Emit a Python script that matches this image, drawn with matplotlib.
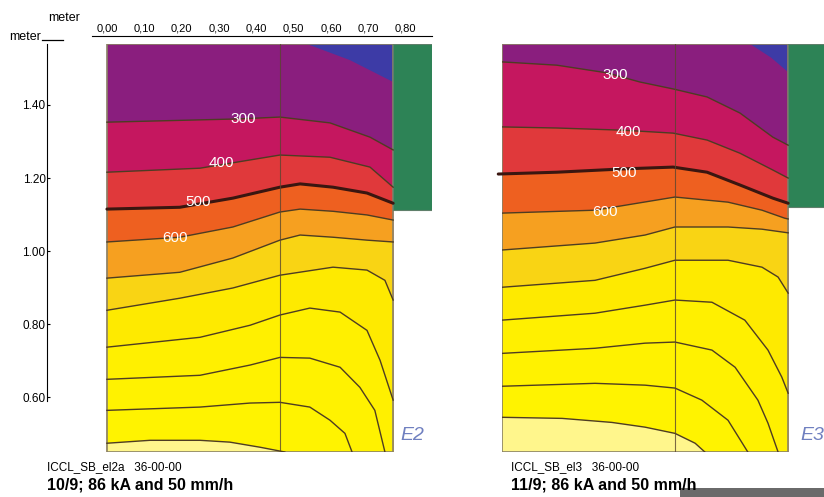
import matplotlib.pyplot as plt
from matplotlib.patches import Rectangle
from matplotlib.lines import Line2D

plt.rcParams['font.family'] = ['Liberation Sans', 'DejaVu Sans']

# isotherm levels (E2 left, E3 right)
levels = [200, 300, 400, 500, 600, 700, 800, 900, 1000, 1100, 1200]
band_colors = ['#3d3ba6', '#8a1e7e', '#c5175f', '#e0393b', '#ee6020', '#f6a020',
               '#f9d414', '#feea00', '#fff000', '#fff200', '#fff300', '#fff68c']

# left panel, 10/9 (E2): contour lines as x (m) / y (m) lists, one per level
e2_x = [
    [0.535, 0.65, 0.766],
    [0.0, 0.356, 0.463, 0.597, 0.704, 0.766],
    [0.0, 0.249, 0.463, 0.597, 0.704, 0.766],
    [0.0, 0.195, 0.337, 0.463, 0.517, 0.605, 0.696, 0.766],
    [0.0, 0.195, 0.337, 0.463, 0.517, 0.605, 0.696, 0.766],
    [0.0, 0.195, 0.337, 0.463, 0.517, 0.605, 0.696, 0.766],
    [0.0, 0.195, 0.337, 0.463, 0.605, 0.696, 0.744, 0.766],
    [0.0, 0.249, 0.383, 0.463, 0.543, 0.624, 0.696, 0.731, 0.766],
    [0.0, 0.249, 0.383, 0.463, 0.543, 0.624, 0.677, 0.717, 0.744],
    [0.0, 0.249, 0.383, 0.463, 0.543, 0.597, 0.637, 0.656],
    [0.0, 0.115, 0.249, 0.329, 0.41, 0.476],
]
e2_y = [
    [1.567, 1.523, 1.463],
    [1.353, 1.362, 1.367, 1.351, 1.312, 1.277],
    [1.216, 1.227, 1.263, 1.257, 1.230, 1.175],
    [1.115, 1.120, 1.145, 1.175, 1.184, 1.175, 1.159, 1.131],
    [1.025, 1.038, 1.066, 1.107, 1.115, 1.109, 1.099, 1.085],
    [0.926, 0.942, 0.981, 1.030, 1.044, 1.038, 1.030, 1.025],
    [0.838, 0.871, 0.899, 0.934, 0.956, 0.948, 0.920, 0.866],
    [0.737, 0.764, 0.797, 0.825, 0.844, 0.833, 0.783, 0.701, 0.592],
    [0.649, 0.660, 0.688, 0.709, 0.707, 0.682, 0.627, 0.564, 0.45],
    [0.564, 0.573, 0.584, 0.586, 0.573, 0.537, 0.501, 0.45],
    [0.474, 0.482, 0.482, 0.477, 0.463, 0.45],
]

# right panel, 11/9 (E3)
e3_x = [
    [0.664, 0.72, 0.766],
    [0.0, 0.147, 0.281, 0.369, 0.458, 0.549, 0.637, 0.725, 0.766],
    [0.0, 0.147, 0.324, 0.458, 0.549, 0.637, 0.725, 0.766],
    [-0.01, 0.147, 0.324, 0.458, 0.549, 0.637, 0.725, 0.766],
    [0.0, 0.249, 0.463, 0.605, 0.696, 0.757, 0.766],
    [0.0, 0.249, 0.383, 0.463, 0.605, 0.696, 0.766],
    [0.0, 0.249, 0.383, 0.463, 0.605, 0.696, 0.739, 0.766],
    [0.0, 0.249, 0.383, 0.463, 0.562, 0.650, 0.712, 0.749, 0.766],
    [0.0, 0.249, 0.383, 0.463, 0.562, 0.624, 0.685, 0.712, 0.739],
    [0.0, 0.249, 0.383, 0.463, 0.535, 0.605, 0.658],
    [0.0, 0.161, 0.294, 0.383, 0.463, 0.517, 0.543],
]
e3_y = [
    [1.567, 1.530, 1.490],
    [1.518, 1.509, 1.488, 1.463, 1.444, 1.422, 1.378, 1.312, 1.290],
    [1.340, 1.337, 1.331, 1.323, 1.304, 1.268, 1.222, 1.200],
    [1.211, 1.216, 1.225, 1.230, 1.216, 1.181, 1.145, 1.131],
    [1.104, 1.112, 1.148, 1.134, 1.112, 1.090, 1.088],
    [1.003, 1.022, 1.044, 1.066, 1.066, 1.060, 1.050],
    [0.901, 0.920, 0.953, 0.975, 0.975, 0.956, 0.929, 0.885],
    [0.811, 0.830, 0.852, 0.866, 0.860, 0.811, 0.729, 0.655, 0.611],
    [0.720, 0.734, 0.748, 0.751, 0.729, 0.682, 0.592, 0.529, 0.45],
    [0.630, 0.638, 0.633, 0.625, 0.592, 0.537, 0.45],
    [0.545, 0.542, 0.531, 0.518, 0.501, 0.474, 0.45],
]

label_text = ['300', '400', '500', '600']
e2_lab_x = [0.364, 0.305, 0.244, 0.182]
e2_lab_y = [1.362, 1.241, 1.134, 1.036]
e3_lab_x = [0.302, 0.337, 0.327, 0.276]
e3_lab_y = [1.482, 1.326, 1.214, 1.107]

x_ticks = [0.0, 0.1, 0.2, 0.3, 0.4, 0.5, 0.6, 0.7, 0.8]
y_ticks = [0.6, 0.8, 1.0, 1.2, 1.4]

# panel geometry (m)
X_HI, Y_LO, Y_HI = 0.766, 0.45, 1.567
DIV = 0.462
GREEN_X = (0.766, 0.87)
e2_green_lo = 1.112
e3_green_lo = 1.12


def below(xs, ys):
    px, py = list(xs), list(ys)
    if py[-1] > Y_LO:
        px.append(X_HI)
        py.append(Y_LO)
    px.append(0.0)
    py.append(Y_LO)
    if xs[0] > 0:
        px.append(0.0)
        py.append(Y_HI)
    return px, py


def draw_panel(ax, xs_list, ys_list, lab_x, lab_y, green_lo):
    ax.add_patch(Rectangle((0, Y_LO), X_HI, Y_HI - Y_LO, facecolor=band_colors[0], lw=0))
    for i, (xs, ys) in enumerate(zip(xs_list, ys_list)):
        px, py = below(xs, ys)
        ax.fill(px, py, color=band_colors[i + 1], lw=0)
    for lev, xs, ys in zip(levels, xs_list, ys_list):
        if lev == 200:
            continue
        if lev == 500:
            ax.plot(xs, ys, color='#3a1610', lw=2.2, clip_on=False, solid_capstyle='round')
        else:
            ax.plot(xs, ys, color='#4e3c22', lw=1.0)
    ax.plot([DIV, DIV], [Y_LO, Y_HI], color='#5a4630', lw=0.8, alpha=0.8)
    ax.add_patch(Rectangle((0, Y_LO), X_HI, Y_HI - Y_LO, fill=False,
                           edgecolor='#8a8266', lw=1.2))
    ax.add_patch(Rectangle((GREEN_X[0], green_lo), GREEN_X[1] - GREEN_X[0], Y_HI - green_lo,
                           facecolor='#2d8356', edgecolor='#5f7f6a', lw=0.8))
    for t, x, y in zip(label_text, lab_x, lab_y):
        ax.text(x, y, t, color='white', fontsize=11, ha='center', va='center')
    ax.set_ylim(Y_LO, Y_HI)


fig = plt.figure(figsize=(8.24, 4.97), dpi=100)
W, H = 824, 497

# left panel: data x -0.04..0.87 spans pixels 92..432
ax1 = fig.add_axes([92 / W, (H - 452) / H, 340 / W, 408 / H])
draw_panel(ax1, e2_x, e2_y, e2_lab_x, e2_lab_y, e2_green_lo)
ax1.set_xlim(-0.04, 0.87)
for s in ['bottom', 'right']:
    ax1.spines[s].set_visible(False)
ax1.spines['top'].set_position(('outward', 5.8))
ax1.spines['left'].set_position(('outward', 32.4))
ax1.spines['left'].set_bounds(0.59, Y_HI)
ax1.xaxis.tick_top()
ax1.set_xticks(x_ticks)
ax1.set_xticklabels([('%.2f' % v).replace('.', ',') for v in x_ticks])
ax1.tick_params(axis='x', length=0, pad=2, labelsize=8)
ax1.set_yticks(y_ticks)
ax1.set_yticklabels(['%.2f' % v for v in y_ticks])
ax1.tick_params(axis='y', direction='in', length=2, pad=1, labelsize=8.5)

# right panel
ax2 = fig.add_axes([502 / W, (H - 452) / H, 325 / W, 408 / H])
draw_panel(ax2, e3_x, e3_y, e3_lab_x, e3_lab_y, e3_green_lo)
ax2.set_xlim(0, 0.87)
ax2.axis('off')

# axis unit labels
fig.text(64 / W, 1 - 18 / H, 'meter', fontsize=9, ha='center', va='center')
fig.text(9 / W, 1 - 37 / H, 'meter', fontsize=9, ha='left', va='center')
fig.lines.append(Line2D([42 / W, 63 / W], [1 - 40 / H, 1 - 40 / H],
                        transform=fig.transFigure, color='black', lw=0.9))

# captions under panels
fig.text(47 / W, 1 - 467 / H, 'ICCL_SB_el2a   36-00-00', fontsize=8.5, va='center')
fig.text(47 / W, 1 - 485 / H, '10/9; 86 kA and 50 mm/h', fontsize=11.5,
         fontweight='bold', va='center')
fig.text(511 / W, 1 - 467 / H, 'ICCL_SB_el3   36-00-00', fontsize=8.5, va='center')
fig.text(511 / W, 1 - 485 / H, '11/9; 86 kA and 50 mm/h', fontsize=11.5,
         fontweight='bold', va='center')

# handwritten panel marks
fig.text(400 / W, 1 - 436 / H, 'E2', fontsize=14, color='#7080c0', style='italic',
         va='center')
fig.text(800 / W, 1 - 436 / H, 'E3', fontsize=14, color='#7080c0', style='italic',
         va='center')

# scan shadow at lower right
fig.patches.append(Rectangle((680 / W, 0), 144 / W, 9 / H, transform=fig.transFigure,
                             facecolor='#505050', alpha=0.85, lw=0))

fig.savefig('out.png', dpi=100)
